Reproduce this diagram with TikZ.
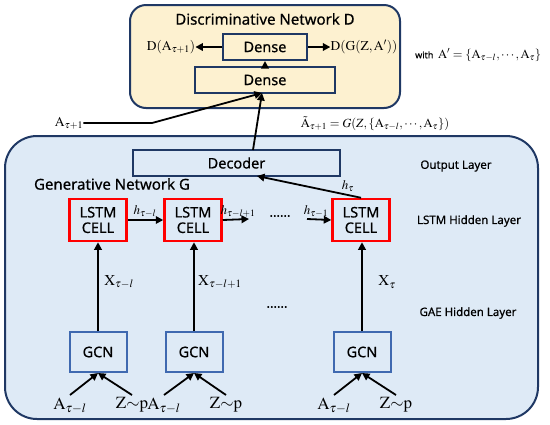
\documentclass[tikz,border=0pt]{standalone}
\usepackage{mathptmx}
\usepackage[no-math]{fontspec}
\setmainfont{Noto Sans}[FakeBold=0.6]
\usetikzlibrary{arrows.meta}
\definecolor{navy}{HTML}{1F3864}
\definecolor{dfill}{HTML}{FDF1D0}
\definecolor{gfill}{HTML}{DEEAF6}
\definecolor{gcnb}{HTML}{3F69B0}
\definecolor{lred}{HTML}{FF0000}
\newcommand{\fs}[1]{\fontsize{#1}{#1}\selectfont}
\tikzset{
  panel/.style={draw=navy, line width=2pt},
  boxlabel/.style={font=\fs{14.5}, inner sep=0pt, align=center},
  densebox/.style={boxlabel, draw=navy, line width=2pt, minimum height=26pt},
  lstmbox/.style={boxlabel, draw=lred, line width=2.5pt, minimum width=57pt, minimum height=42pt},
  gcnbox/.style={boxlabel, draw=gcnb, line width=2pt, minimum width=57pt, minimum height=40pt},
  layerlabel/.style={font=\fs{11.5}, inner sep=0pt},
  titlelabel/.style={font=\fs{15}, inner sep=0pt},
  mathlabel/.style={font=\fs{13.5}, inner sep=0pt},
  hlabel/.style={font=\fs{13}, inner sep=0pt},
  arr/.style={line width=1.8pt, -{Triangle[length=7.5pt,width=7.5pt]}},
}
\begin{document}
\begin{tikzpicture}[x=1pt,y=-1pt]
\useasboundingbox (0,0) rectangle (550,424);
% panels
\node[panel, fill=dfill, rounded corners=16pt, minimum width=270pt, minimum height=103pt, inner sep=0pt] (dpanel) at (265,56.5) {};
\node[panel, fill=gfill, rounded corners=32pt, minimum width=533pt, minimum height=283pt, inner sep=0pt] (gpanel) at (271.5,277.5) {};
% discriminative
\node[titlelabel] (dtitle) at (265,19) {Discriminative Network D};
\node[densebox, minimum width=84pt] (dense1) at (265,47) {Dense};
\node[densebox, minimum width=140pt] (dense2) at (265,80) {Dense};
\node[mathlabel] (dreal) at (171,47) {$\mathrm{D}(\mathrm{A}_{\tau+1})$};
\node[mathlabel] (dfake) at (364,47) {$\mathrm{D}(\mathrm{G}(\mathrm{Z},\mathrm{A}'))$};
\draw[arr] (dense1.west) -- (dreal.east);
\draw[arr] (dense1.east) -- (dfake.west);
\draw[arr] (dense2.north) -- (dense1.south);
\node[inner sep=0pt, anchor=west] (with) at (415,55) {\fs{9}with\ \ \fs{12.5}$\mathrm{A}'=\{\mathrm{A}_{\tau-l},\cdots,\mathrm{A}_{\tau}\}$};
% real input
\node[mathlabel] (areal) at (69,123) {$\mathrm{A}_{\tau+1}$};
\coordinate (abend) at (152,123);
\coordinate (dtarget) at (262,93);
\draw[arr] (areal.east) -- (abend) -- (dtarget);
\node[font=\fs{12.5}, inner sep=0pt] (atilde) at (375,123.5) {$\tilde{\mathrm{A}}_{\tau+1}=G(Z,\{\mathrm{A}_{\tau-l},\cdots,\mathrm{A}_{\tau}\})$};
% generative
\node[densebox, minimum width=207pt] (dec) at (236.5,163) {Decoder};
\coordinate (decout) at (253,150);
\draw[arr] (decout) -- (dtarget);
\node[titlelabel] (gtitle) at (112,184) {Generative Network G};
\node[layerlabel] (outl) at (456,166) {Output Layer};
\node[layerlabel] (lstml) at (469,221) {LSTM Hidden Layer};
\node[layerlabel] (gael) at (468,313) {GAE Hidden Layer};
% LSTM cells
\node[lstmbox] (l1) at (98,220) {LSTM\\[1pt]CELL};
\node[lstmbox] (l2) at (193,220) {LSTM\\[1pt]CELL};
\node[lstmbox] (l3) at (361,220) {LSTM\\[1pt]CELL};
\coordinate (h2end) at (249,219);
\coordinate (h3start) at (307,219);
\node[font=\fs{13}, inner sep=0pt] (dots1) at (280,216) {......};
\draw[arr] (l1.east) -- (l2.west);
\draw[arr] (l2.east) -- (h2end);
\draw[arr] (h3start) -- (l3.west);
\node[hlabel] (h1) at (145,211) {$h_{\tau-l}$};
\node[hlabel] (h2) at (238,211) {$h_{\tau-l+1}$};
\node[hlabel] (h3) at (316,211) {$h_{\tau-1}$};
\coordinate (decin) at (257,176);
\draw[arr] (l3.north) -- (decin);
\node[hlabel] (htau) at (348,186) {$h_{\tau}$};
% GCN
\node[gcnbox] (g1) at (98,352) {GCN};
\node[gcnbox] (g2) at (194,352) {GCN};
\node[gcnbox] (g3) at (362,352) {GCN};
\draw[arr] (g1.north) -- (g1.north |- l1.south);
\draw[arr] (g2.north) -- (g2.north |- l2.south);
\draw[arr] (g3.north) -- (g3.north |- l3.south);
\node[font=\fs{15}, inner sep=0pt] (x1) at (119,282) {$\mathrm{X}_{\tau-l}$};
\node[font=\fs{15}, inner sep=0pt] (x2) at (220,282) {$\mathrm{X}_{\tau-l+1}$};
\node[font=\fs{15}, inner sep=0pt] (x3) at (387,282) {$\mathrm{X}_{\tau}$};
\node[font=\fs{13}, inner sep=0pt] (dots2) at (277,307) {......};
% inputs
\foreach \i/\ax/\zx in {1/70/132, 2/164/226, 3/334/396}{
  \node[font=\fs{17}, inner sep=0pt] (a\i) at (\ax,406) {$\mathrm{A}_{\tau-l}$};
  \node[font=\fs{17}, inner sep=0pt] (z\i) at (\zx,405) {$\mathrm{Z}{\sim}\mathrm{p}$};
  \coordinate (as\i) at (\ax,395);
  \coordinate (zs\i) at (\zx,395);
  \draw[arr] (as\i) -- (g\i.south);
  \draw[arr] (zs\i) -- (g\i.south);
}
\end{tikzpicture}
\end{document}
